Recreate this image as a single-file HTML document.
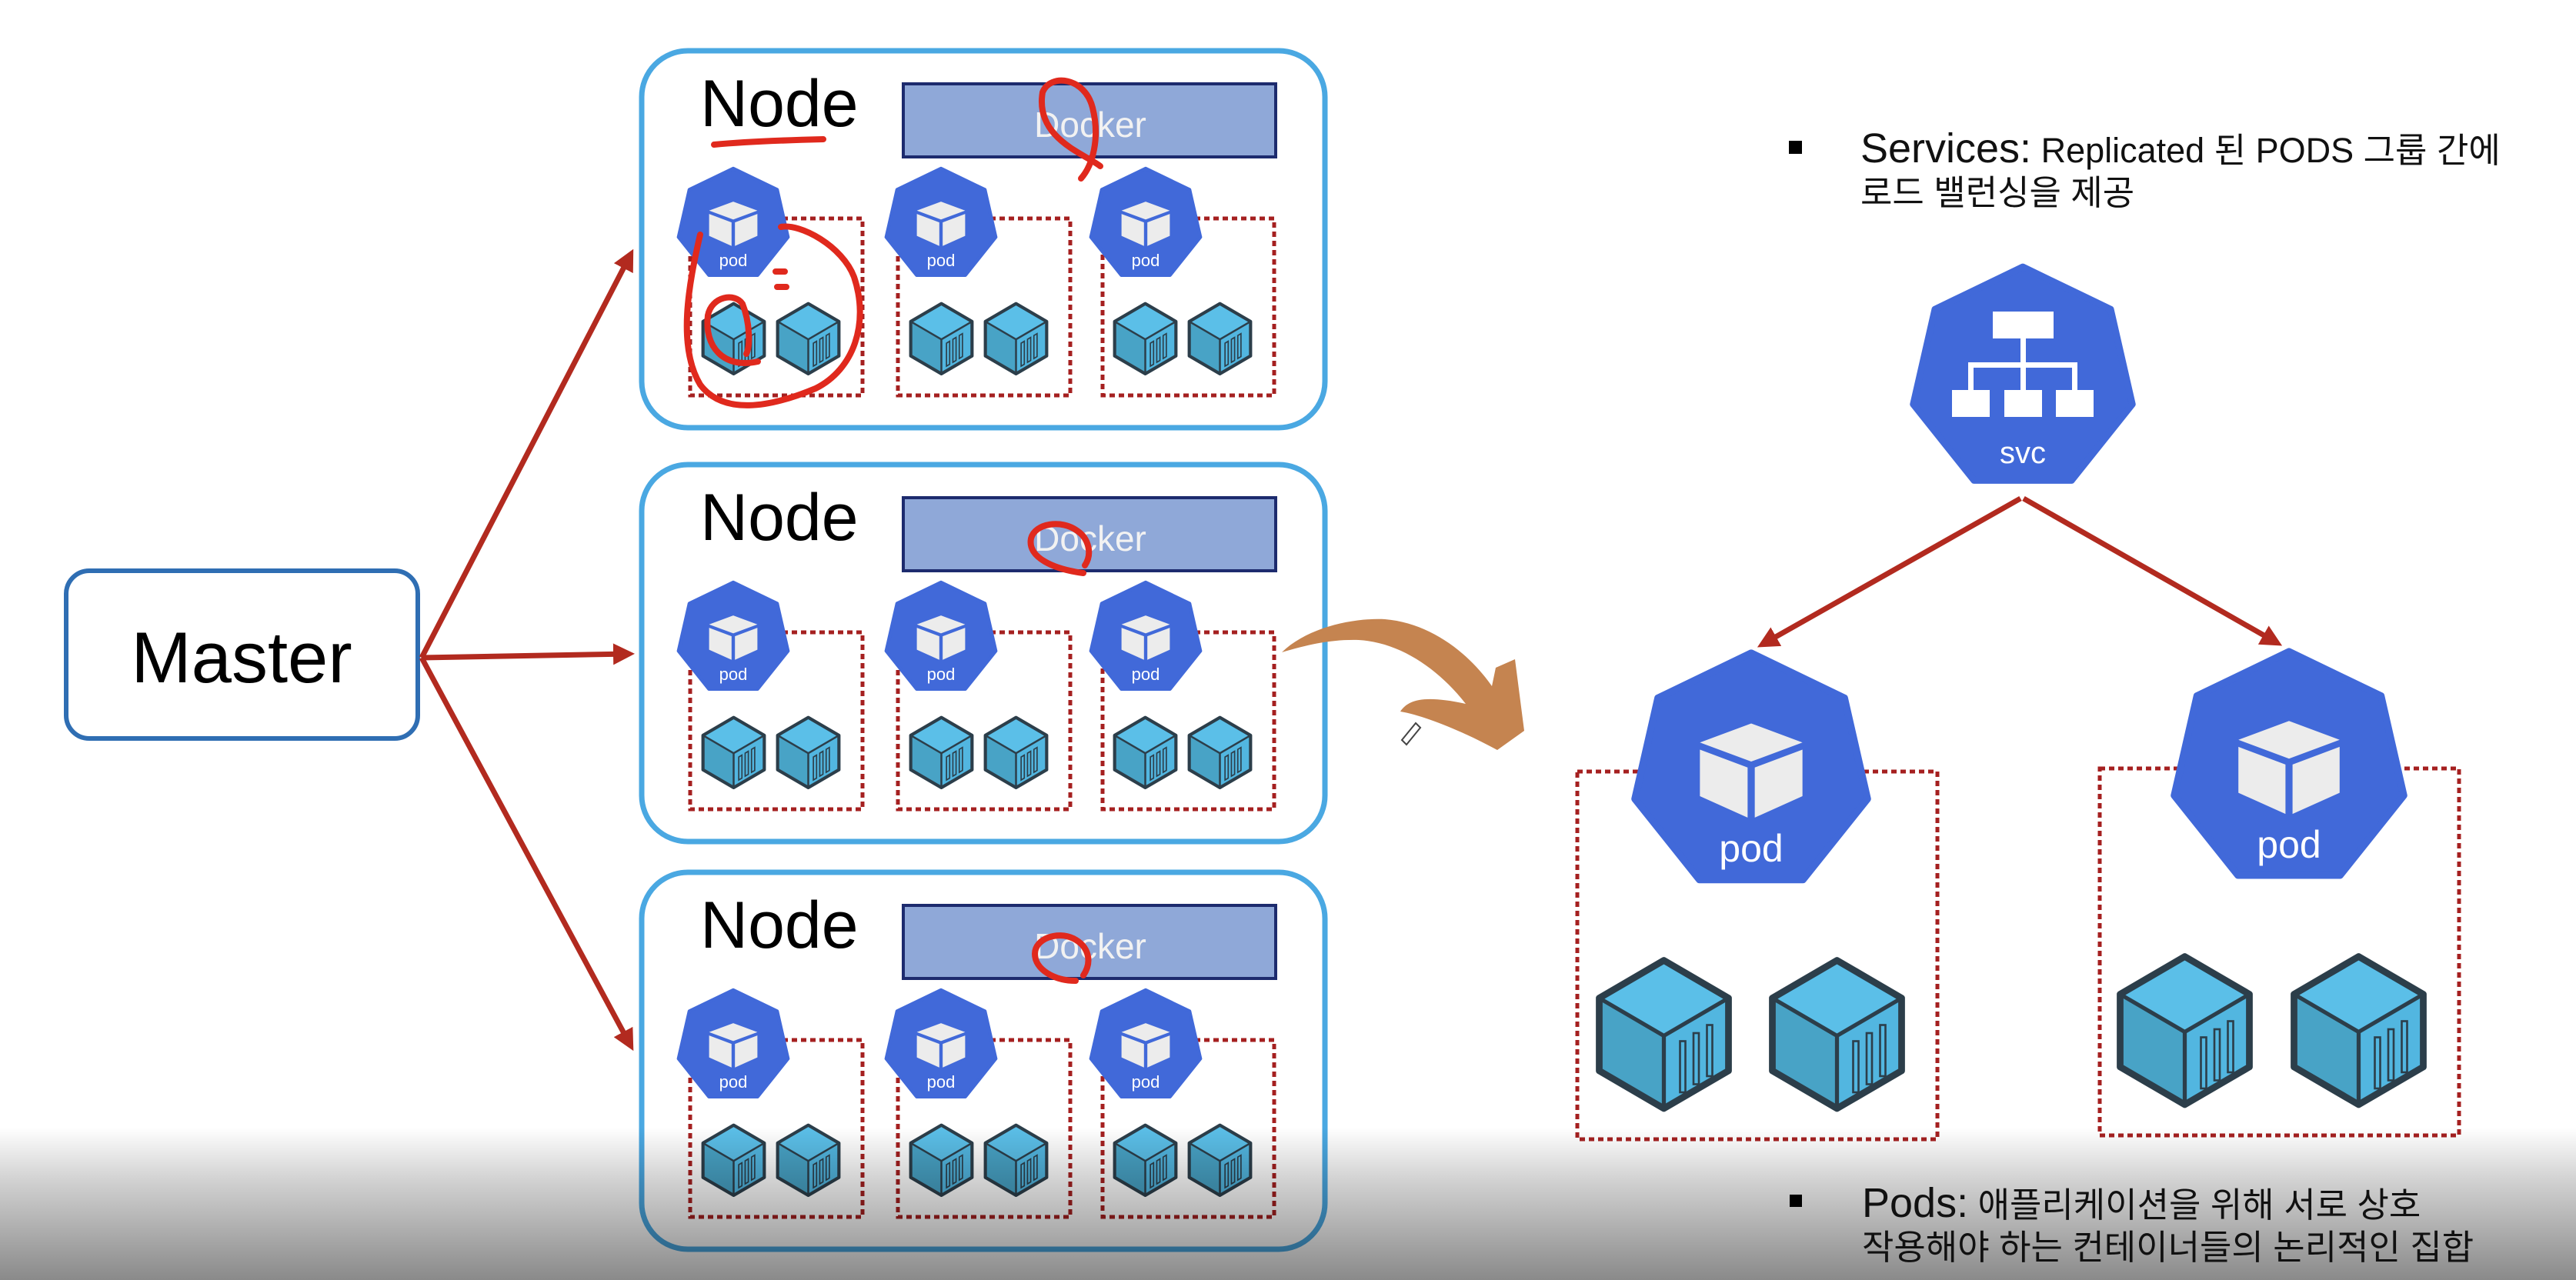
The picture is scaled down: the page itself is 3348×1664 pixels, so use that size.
<!DOCTYPE html>
<html><head><meta charset="utf-8"><style>
html,body{margin:0;padding:0;background:#fff;}
svg{display:block;}
text{font-family:"Liberation Sans","Noto Sans CJK KR",sans-serif;}
</style></head><body>
<svg width="3348" height="1664" viewBox="0 0 3348 1664" xmlns="http://www.w3.org/2000/svg">
<defs>
  <g id="hex"><polygon points="0,-100 78.2,-62.3 97.5,22.3 43.4,90.1 -43.4,90.1 -97.5,22.3 -78.2,-62.3" fill="#4169d9" stroke="#4169d9" stroke-width="6" stroke-linejoin="round"/></g>
  <g id="podicon">
    <use href="#hex"/>
    <polygon points="0,-41 43,-25 0,-9 -43,-25" fill="#ececec"/>
    <polygon points="-43,-19 -3,-4 -3,38 -43,20" fill="#ececec"/>
    <polygon points="3,-4 43,-19 43,20 3,38" fill="#ececec"/>
  </g>
  <g id="ctrbase">
    <polygon points="50,2 98,30 50,58 2,30" fill="#5bbfe8"/>
    <polygon points="2,30 50,58 50,112 2,84" fill="#48a3c6"/>
    <polygon points="50,58 98,30 98,84 50,112" fill="#52b6e0"/>
    <polygon points="50,2 98,30 98,84 50,112 2,84 2,30" fill="none" stroke="#2c3e4a" stroke-width="5" stroke-linejoin="round"/>
    <polyline points="2,30 50,58 98,30" fill="none" stroke="#2c3e4a" stroke-width="3"/>
    <line x1="50" y1="58" x2="50" y2="112" stroke="#2c3e4a" stroke-width="3"/>
  </g>
  <g id="ctr">
    <use href="#ctrbase"/>
    <polygon points="58,64 63,61 63,97 58,100" fill="none" stroke="#2c3e4a" stroke-width="2"/>
    <polygon points="68,58 73,55 73,91 68,94" fill="none" stroke="#2c3e4a" stroke-width="2"/>
    <polygon points="78,52 83,49 83,85 78,88" fill="none" stroke="#2c3e4a" stroke-width="2"/>
  </g>
  <g id="ctrbig">
    <use href="#ctrbase"/>
    <rect x="62" y="62" width="4" height="38" fill="none" stroke="#2c3e4a" stroke-width="1.5"/>
    <rect x="72" y="56" width="4" height="38" fill="none" stroke="#2c3e4a" stroke-width="1.5"/>
    <rect x="82" y="50" width="4" height="38" fill="none" stroke="#2c3e4a" stroke-width="1.5"/>
  </g>
  <g id="nodeshapes">
    <rect x="834" y="66" width="888" height="490" rx="60" fill="#fff" stroke="#4aa8e2" stroke-width="7"/>
    <rect x="1174" y="109" width="484" height="95" fill="#8fa8d8" stroke="#1d2b6e" stroke-width="4"/>
    <g fill="none" stroke="#a52020" stroke-width="5" stroke-dasharray="7 5">
      <rect x="897" y="284" width="224" height="230"/>
      <rect x="1167" y="284" width="224" height="230"/>
      <rect x="1433" y="284" width="223" height="230"/>
    </g>
    <use href="#podicon" transform="translate(953,292) scale(0.73)"/>
    <use href="#podicon" transform="translate(1223,292) scale(0.73)"/>
    <use href="#podicon" transform="translate(1489,292) scale(0.73)"/>
    <use href="#ctr" transform="translate(912,393) scale(0.83)"/>
    <use href="#ctr" transform="translate(1009,393) scale(0.83)"/>
    <use href="#ctr" transform="translate(1182,393) scale(0.83)"/>
    <use href="#ctr" transform="translate(1279,393) scale(0.83)"/>
    <use href="#ctr" transform="translate(1447,393) scale(0.83)"/>
    <use href="#ctr" transform="translate(1544,393) scale(0.83)"/>
  </g>
  <marker id="ah" markerWidth="4" markerHeight="4" refX="3" refY="2" orient="auto" markerUnits="strokeWidth">
    <path d="M0,0 L4,2 L0,4 Z" fill="#b22a1f"/>
  </marker>
</defs>

<g>
  <use href="#nodeshapes"/>
  <text x="910" y="164" font-size="86" fill="#000">Node</text>
  <text x="1417" y="178" font-size="46" fill="#f2f2f2" text-anchor="middle">Docker</text>
  <text x="953" y="346" font-size="22" fill="#fff" text-anchor="middle">pod</text>
  <text x="1223" y="346" font-size="22" fill="#fff" text-anchor="middle">pod</text>
  <text x="1489" y="346" font-size="22" fill="#fff" text-anchor="middle">pod</text>
</g>
<g transform="translate(0,538)">
  <use href="#nodeshapes"/>
  <text x="910" y="164" font-size="86" fill="#000">Node</text>
  <text x="1417" y="178" font-size="46" fill="#f2f2f2" text-anchor="middle">Docker</text>
  <text x="953" y="346" font-size="22" fill="#fff" text-anchor="middle">pod</text>
  <text x="1223" y="346" font-size="22" fill="#fff" text-anchor="middle">pod</text>
  <text x="1489" y="346" font-size="22" fill="#fff" text-anchor="middle">pod</text>
</g>
<g transform="translate(0,1068)">
  <use href="#nodeshapes"/>
  <text x="910" y="164" font-size="86" fill="#000">Node</text>
  <text x="1417" y="178" font-size="46" fill="#f2f2f2" text-anchor="middle">Docker</text>
  <text x="953" y="346" font-size="22" fill="#fff" text-anchor="middle">pod</text>
  <text x="1223" y="346" font-size="22" fill="#fff" text-anchor="middle">pod</text>
  <text x="1489" y="346" font-size="22" fill="#fff" text-anchor="middle">pod</text>
</g>

<g fill="none" stroke="#e0291d" stroke-width="8" stroke-linecap="round">
  <path d="M928,188 C970,184 1030,182 1070,181"/>
  <path d="M1430,216 C1410,200 1345,180 1355,120 C1365,95 1410,100 1420,140 C1430,180 1420,215 1405,232"/>
  <path d="M910,305 C895,370 880,450 910,500 C940,540 1000,530 1060,505 C1110,480 1130,420 1110,360 C1095,320 1040,290 1015,295"/>
  <path d="M985,470 C940,480 915,450 920,410 C925,385 955,380 965,395 C975,420 975,450 970,460"/>
  <path d="M1008,353 L1020,353 M1010,373 L1022,373"/>
  <path d="M1408,745 C1370,740 1335,725 1340,700 C1345,680 1380,675 1400,690 C1415,700 1420,720 1410,735" />
  <path d="M1398,1275 C1370,1275 1345,1260 1345,1240 C1345,1220 1375,1210 1395,1220 C1415,1230 1420,1250 1408,1268"/>
</g>

<rect x="86" y="742" width="457" height="218" rx="30" fill="#fff" stroke="#2f6eb3" stroke-width="6"/>
<text x="314" y="887" font-size="94" text-anchor="middle" fill="#000">Master</text>

<g stroke="#b22a1f" stroke-width="7" fill="none" marker-end="url(#ah)">
  <line x1="548" y1="855" x2="820" y2="330"/>
  <line x1="548" y1="855" x2="818" y2="850"/>
  <line x1="548" y1="855" x2="820" y2="1360"/>
</g>

<path d="M1666,848 C1700,815 1760,803 1800,805 C1860,810 1910,850 1939,892 L1944,868 L1969,857 L1981,950 L1946,975 C1900,950 1850,930 1820,925 C1830,910 1850,903 1905,915 C1870,870 1820,835 1766,832 C1730,831 1700,838 1666,848 Z" fill="#c58450"/>
<path d="M1822,962 L1840,940 L1846,946 L1828,968 Z" fill="none" stroke="#444" stroke-width="2"/>

<rect x="2325" y="183" width="17" height="17" fill="#000"/>
<text x="2418" y="211" fill="#111"><tspan font-size="54">Services:</tspan><tspan font-size="45"> Replicated 된 PODS 그룹 간에</tspan></text>
<text x="2418" y="266" font-size="45" fill="#111">로드 밸런싱을 제공</text>

<use href="#hex" transform="translate(2629,493) scale(1.46)"/>
<g fill="#fff">
  <rect x="2590" y="405" width="79" height="35"/>
  <rect x="2537" y="507" width="49" height="35"/>
  <rect x="2605" y="507" width="49" height="35"/>
  <rect x="2672" y="507" width="49" height="35"/>
  <rect x="2626" y="440" width="7" height="67"/>
  <rect x="2558" y="471" width="142" height="7"/>
  <rect x="2558" y="471" width="7" height="36"/>
  <rect x="2693" y="471" width="7" height="36"/>
</g>
<text x="2629" y="602" font-size="40" fill="#fff" text-anchor="middle">svc</text>

<g stroke="#b22a1f" stroke-width="7" fill="none" marker-end="url(#ah)">
  <line x1="2626" y1="648" x2="2290" y2="838"/>
  <line x1="2630" y1="648" x2="2960" y2="836"/>
</g>

<g fill="none" stroke="#a52020" stroke-width="5" stroke-dasharray="7 5">
  <rect x="2050" y="1003" width="468" height="478"/>
  <rect x="2729" y="999" width="467" height="477"/>
</g>
<use href="#podicon" transform="translate(2276,1004) scale(1.55)"/>
<text x="2276" y="1120" font-size="50" fill="#fff" text-anchor="middle">pod</text>
<use href="#podicon" transform="translate(2975,1000) scale(1.53)"/>
<text x="2975" y="1115" font-size="50" fill="#fff" text-anchor="middle">pod</text>
<use href="#ctrbig" transform="translate(2075,1245) scale(1.75)"/>
<use href="#ctrbig" transform="translate(2300,1245) scale(1.75)"/>
<use href="#ctrbig" transform="translate(2752,1240) scale(1.75)"/>
<use href="#ctrbig" transform="translate(2978,1240) scale(1.75)"/>

<defs>
  <linearGradient id="shade" x1="0" y1="0" x2="0" y2="1">
    <stop offset="0" stop-color="#000" stop-opacity="0"/>
    <stop offset="0.35" stop-color="#000" stop-opacity="0.18"/>
    <stop offset="1" stop-color="#000" stop-opacity="0.46"/>
  </linearGradient>
</defs>
<rect x="0" y="1465" width="3348" height="199" fill="url(#shade)"/>

<rect x="2326" y="1553" width="16" height="16" fill="#000"/>
<text x="2420" y="1582" fill="#111"><tspan font-size="54">Pods:</tspan><tspan font-size="45"> 애플리케이션을 위해 서로 상호</tspan></text>
<text x="2420" y="1637" font-size="45" fill="#111">작용해야 하는 컨테이너들의 논리적인 집합</text>
</svg>
</body></html>
